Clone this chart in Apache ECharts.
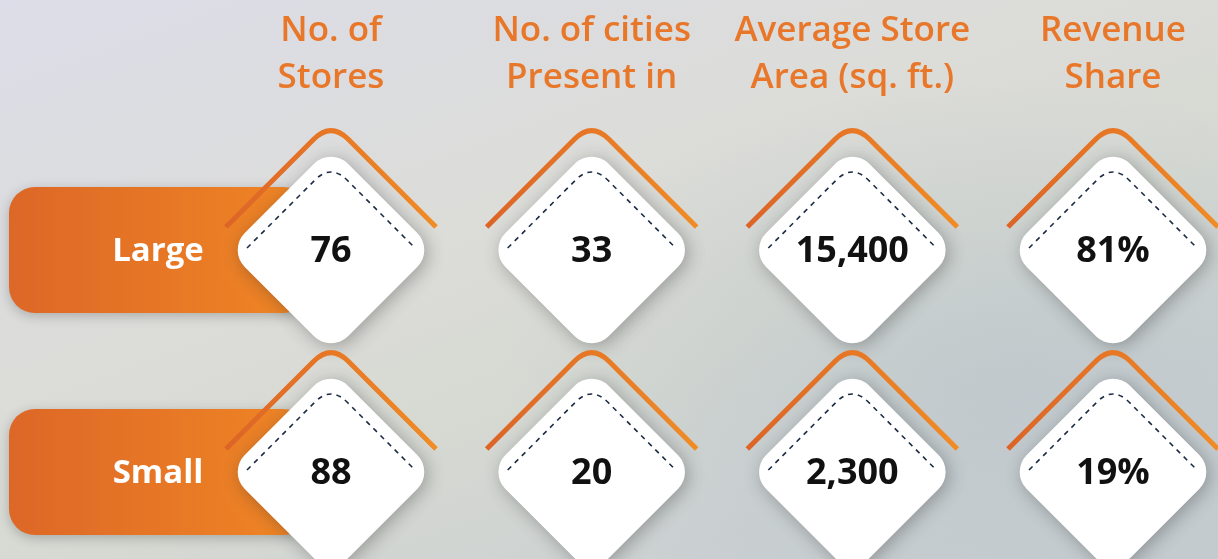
<!DOCTYPE html>
<html>
<head>
<meta charset="utf-8">
<script src="https://cdn.jsdelivr.net/npm/echarts@6/dist/echarts.min.js"></script>
<style>
  html, body { margin: 0; padding: 0; }
  #main {
    width: 1218px;
    height: 559px;
    background:
      radial-gradient(ellipse 500px 300px at 1000px 380px, rgba(180,192,200,0.55), rgba(180,192,200,0) 100%),
      linear-gradient(160deg, #dcdde8 0%, #dcdcd8 40%, #d6d9d2 60%, #ccd1d2 80%, #c6cdd0 100%);
  }
</style>
</head>
<body>
<div id="main"></div>
<script>
// table headers (columns) and row names
const metrics = ['No. of\nStores', 'No. of cities\nPresent in', 'Average Store\nArea (sq. ft.)', 'Revenue\nShare'];
const segments = ['Large', 'Small'];
// values per segment, one per metric
const largeValues = [76, 33, 15400, 81];
const smallValues = [88, 20, 2300, 19];
const valueSuffix = ['', '', '', '%'];

const orange = '#e8772a';
const cellData = [];
[largeValues, smallValues].forEach(function (vals, s) {
  vals.forEach(function (v, m) {
    cellData.push([m, s, v]);
  });
});
const labelData = segments.map(function (name, s) { return [0, s]; });

var myChart = echarts.init(document.getElementById('main'));

function renderLabel(params, api) {
  var p = api.coord([api.value(0), api.value(1)]);
  return {
    type: 'group',
    children: [
      {
        type: 'rect',
        shape: { x: p[0] - 322, y: p[1] - 63, width: 300, height: 126, r: 26 },
        style: {
          fill: new echarts.graphic.LinearGradient(0, 0, 1, 0, [
            { offset: 0, color: '#dd6727' },
            { offset: 1, color: '#f08624' }
          ]),
          shadowBlur: 12,
          shadowOffsetY: 3,
          shadowColor: 'rgba(0,0,0,0.22)'
        }
      },
      {
        type: 'text',
        x: p[0] - 173,
        y: p[1] + 2,
        style: {
          text: segments[api.value(1)],
          fill: '#fff',
          font: 'bold 33px "Open Sans"',
          align: 'center',
          verticalAlign: 'middle'
        }
      }
    ]
  };
}

function renderCell(params, api) {
  var m = api.value(0);
  var p = api.coord([m, api.value(1)]);
  var txt = api.value(2).toLocaleString('en-US') + valueSuffix[m];
  var s = 146;
  return {
    type: 'group',
    x: p[0],
    y: p[1],
    children: [
      {
        type: 'path',
        shape: { pathData: 'M -105 -23 L -17 -111 Q 0 -128 17 -111 L 105 -23' },
        style: {
          fill: 'none',
          lineWidth: 5,
          stroke: new echarts.graphic.LinearGradient(0, 0, 1, 0, [
            { offset: 0, color: '#dc6326' },
            { offset: 1, color: '#f28c24' }
          ])
        }
      },
      {
        type: 'rect',
        rotation: Math.PI / 4,
        shape: { x: -s / 2, y: -s / 2, width: s, height: s, r: 24 },
        style: {
          fill: '#ffffff',
          shadowBlur: 18,
          shadowOffsetX: 3,
          shadowOffsetY: 3,
          shadowColor: 'rgba(40,40,40,0.35)'
        }
      },
      {
        type: 'path',
        shape: { pathData: 'M -84 -2 L -16 -70 Q 0 -86 16 -70 L 84 -2' },
        style: {
          fill: 'none',
          stroke: '#1d2b45',
          lineWidth: 1.6,
          lineDash: [5, 5]
        }
      },
      {
        type: 'text',
        x: 0,
        y: 2,
        style: {
          text: txt,
          fill: '#111',
          font: 'bold 36px "Open Sans"',
          align: 'center',
          verticalAlign: 'middle'
        }
      }
    ]
  };
}

var option = {
  animation: false,
  grid: { left: 331, right: 105, top: 250, bottom: 87 },
  xAxis: {
    type: 'category',
    data: metrics,
    position: 'top',
    boundaryGap: false,
    axisLine: { show: false },
    axisTick: { show: false },
    splitLine: { show: false },
    axisLabel: {
      margin: 148,
      interval: 0,
      color: orange,
      fontFamily: 'Open Sans',
      fontWeight: 600,
      fontSize: 35,
      lineHeight: 47,
      align: 'center'
    }
  },
  yAxis: {
    type: 'category',
    data: segments,
    inverse: true,
    boundaryGap: false,
    axisLine: { show: false },
    axisTick: { show: false },
    splitLine: { show: false },
    axisLabel: { show: false }
  },
  series: [
    {
      type: 'custom',
      z: 1,
      renderItem: renderLabel,
      data: labelData
    },
    {
      type: 'custom',
      z: 2,
      renderItem: renderCell,
      data: cellData
    }
  ]
};
option && myChart.setOption(option);
</script>
</body>
</html>
